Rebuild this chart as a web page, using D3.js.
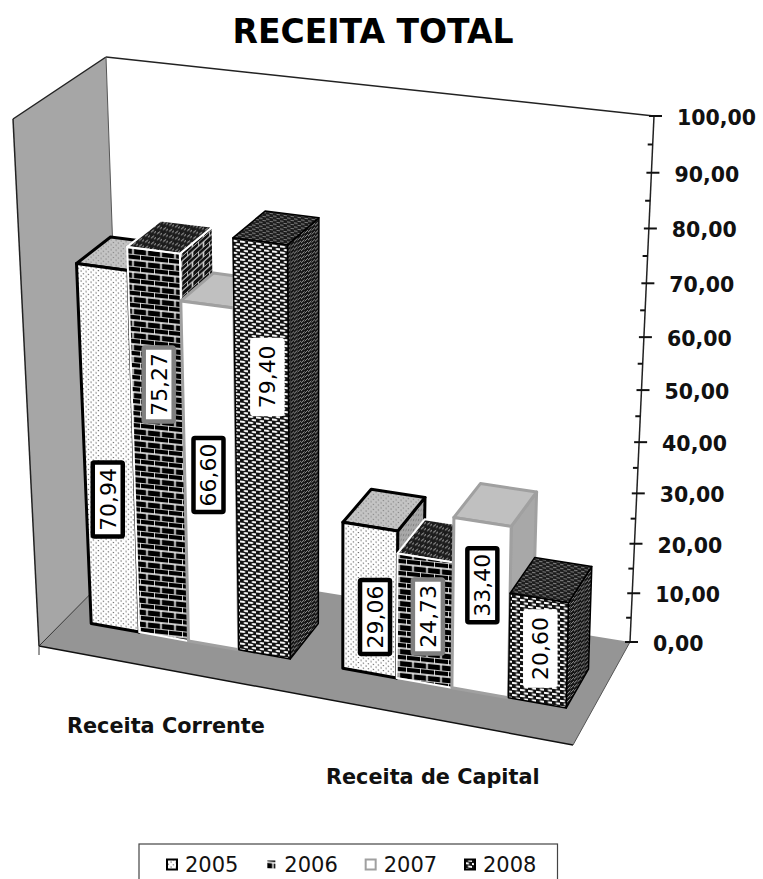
<!DOCTYPE html>
<html><head><meta charset="utf-8">
<script src="https://cdnjs.cloudflare.com/ajax/libs/d3/7.8.5/d3.min.js"></script>
<style>html,body{margin:0;padding:0;background:#fff}svg{display:block;font-family:"DejaVu Sans",sans-serif}</style>
</head><body><svg id="c" width="763" height="879"></svg>
<script>
const categories = ["Receita Corrente", "Receita de Capital"];
const seriesNames = ["2005", "2006", "2007", "2008"];
const values2005 = [70.94, 29.06];
const values2006 = [75.27, 24.73];
const values2007 = [66.60, 33.40];
const values2008 = [79.40, 20.60];
const valueTicks = [0,10,20,30,40,50,60,70,80,90,100];
const minorTicks = [5,15,25,35,45,55,65,75,85,95];
const title = "RECEITA TOTAL";

// layout only
const floorCorners = {fl:[39,646], fr:[573,745], br:[630,642], bl:[124,560]};
const topCorners = {fl:[13,119], fr:[580,186], br:[654,116], bl:[106,57]};
const heightForeshorten = 0.919;
const depthFront = 0.30, depthBack = 0.68;
const labelNudge = {
  "2005":[[-1,52],[5,17]], "2006":[[0,-59],[3,-4]], "2007":[[-2,0],[1,-22]], "2008":[[5,-71],[2,-2]]
};
const seriesValues = {"2005":values2005,"2006":values2006,"2007":values2007,"2008":values2008};

const svg = d3.select("#c");
const fmt = v => v.toFixed(2).replace(".", ",");

function homography(q){
  const [p0,p1,p2,p3]=[q.fl,q.fr,q.br,q.bl];
  const dx1=p1[0]-p2[0],dx2=p3[0]-p2[0],sx=p0[0]-p1[0]+p2[0]-p3[0];
  const dy1=p1[1]-p2[1],dy2=p3[1]-p2[1],sy=p0[1]-p1[1]+p2[1]-p3[1];
  const den=dx1*dy2-dx2*dy1;
  const g=(sx*dy2-dx2*sy)/den,h=(dx1*sy-sx*dy1)/den;
  const a=p1[0]-p0[0]+g*p1[0],b=p3[0]-p0[0]+h*p3[0],c=p0[0],
        d=p1[1]-p0[1]+g*p1[1],e=p3[1]-p0[1]+h*p3[1],f=p0[1];
  return (u,v)=>{const w=g*u+h*v+1;return [(a*u+b*v+c)/w,(d*u+e*v+f)/w];};
}
const floorAt = homography(floorCorners), topAt = homography(topCorners);
const yValue = d3.scaleLinear().domain([0,100]).range([0,1]);
function P(u,v,val){
  const s=yValue(val), t=s*heightForeshorten/(1+(heightForeshorten-1)*s);
  const F=floorAt(u,v),T=topAt(u,v);
  return [F[0]+(T[0]-F[0])*t,F[1]+(T[1]-F[1])*t];
}
const xCat = d3.scaleBand().domain(categories).range([0.004,1.008]).paddingInner(0.2).paddingOuter(0.1);
const xSer = d3.scaleBand().domain(seriesNames).range([0,xCat.bandwidth()]);
const poly = pts => "M"+pts.map(p=>p.map(n=>n.toFixed(1)).join(",")).join("L")+"Z";

const defs = svg.append("defs");
function pat(id,w,h,bg,tf,draw){
  const p=defs.append("pattern").attr("id",id).attr("width",w).attr("height",h).attr("patternUnits","userSpaceOnUse");
  if(tf)p.attr("patternTransform",tf);
  p.append("rect").attr("width",w).attr("height",h).attr("fill",bg);
  draw(p);
}
const dots=(col,s)=>p=>{[[0.5,0.5],[3,3]].forEach(([x,y])=>p.append("rect").attr("x",x).attr("y",y).attr("width",s).attr("height",s).attr("fill",col));};
pat("d-front",5,5,"#fff","skewY(7)",dots("#444",1.1));
pat("d-top",5,5,"#c4c4c4","skewY(7)",dots("#777",1.1));
pat("d-side",5,5,"#a8a8a8","skewY(-45)",dots("#666",1.1));
const bricks=(col,w,hh)=>p=>{
  p.append("path").attr("stroke",col).attr("stroke-width",1.5).attr("fill","none")
   .attr("d",`M0,0H${w}M0,${hh}H${w}M0,0V${hh}M${w/2},${hh}V${2*hh}`);
};
pat("b-front",14,12,"#000","skewY(6)",bricks("#fff",14,6));
pat("b-side",11,10,"#111","skewY(-42)",bricks("#ccc",11,5));
pat("b-top",6,6,"#1c1c1c","skewY(-35)",p=>{p.append("rect").attr("x",1).attr("y",1).attr("width",3).attr("height",1.5).attr("fill","#888");p.append("rect").attr("x",4).attr("y",4).attr("width",3).attr("height",1.5).attr("fill","#888");});
const weave=(col,w,hh,dl,dh)=>p=>{
  p.append("rect").attr("x",0).attr("y",1).attr("width",dl).attr("height",dh).attr("fill",col);
  p.append("rect").attr("x",w/2).attr("y",1+hh/2).attr("width",dl).attr("height",dh).attr("fill",col);
};
pat("w-front",8,6,"#111","skewY(7)",weave("#f6f6f6",8,6,5,2));
pat("w-side",7,4,"#151515","skewY(-44)",weave("#8c8c8c",7,4,3.5,1.2));
pat("w-top",7,4,"#1c1c1c","skewY(8)",weave("#7c7c7c",7,4,3.5,1.2));

const styles = {
 "2005":{front:"url(#d-front)",top:"url(#d-top)",side:"url(#d-side)",stroke:"#000",sw:3,lab:"#000"},
 "2006":{front:"url(#b-front)",top:"url(#b-top)",side:"url(#b-side)",stroke:"#fff",sw:2,lab:"#808080"},
 "2007":{front:"#fff",top:"#c0c0c0",side:"#a8a8a8",stroke:"#a0a0a0",sw:3,lab:"#000"},
 "2008":{front:"url(#w-front)",top:"url(#w-top)",side:"url(#w-side)",stroke:"#000",sw:1.5,lab:"#fff"}
};

const g = svg.append("g");
g.append("path").attr("d",poly([P(0,1,0),P(1,1,0),P(1,1,100),P(0,1,100)])).attr("fill","#fff");
g.append("path").attr("d",poly([P(0,0,0),P(0,1,0),P(0,1,100),P(0,0,100)])).attr("fill","#a6a6a6");
g.append("path").attr("d",poly([P(0,0,0),P(1,0,0),P(1,1,0),P(0,1,0)])).attr("fill","#959595");
const line=(a,b,c,w)=>g.append("path").attr("d","M"+a.join(",")+"L"+b.join(",")).attr("stroke",c).attr("stroke-width",w).attr("fill","none");
line(P(0,0,0),P(0,0,100),"#222",1.5);
line(P(0,0,100),P(0,1,100),"#222",1.5);
line(P(0,1,100),P(1,1,100),"#222",1.5);
line(P(0,1,0),P(0,1,100),"#555",1);
line(P(0,0,0),P(0,1,0),"#333",1);
line(P(0,0,0),P(1,0,0),"#111",1.5);
line(P(1,0,0),P(1,1,0),"#555",1);
line(P(0,0,0),[P(0,0,0)[0],P(0,0,0)[1]+9],"#333",1);

const labels=[];
seriesNames.forEach(s=>{
  categories.forEach((c,ci)=>{
    const val=seriesValues[s][ci], st=styles[s];
    const u0=xCat(c)+xSer(s), u1=u0+xSer.bandwidth();
    const a=P(u0,depthFront,0),b=P(u1,depthFront,0),c2=P(u1,depthFront,val),d=P(u0,depthFront,val);
    const e=P(u0,depthBack,val),f=P(u1,depthBack,val),h=P(u1,depthBack,0);
    const bar=g.append("g").attr("data-series",s).attr("stroke",st.stroke).attr("stroke-width",st.sw).attr("stroke-linejoin","round");
    bar.append("path").attr("d",poly([b,h,f,c2])).attr("fill",st.side);
    bar.append("path").attr("d",poly([d,c2,f,e])).attr("fill",st.top);
    bar.append("path").attr("d",poly([a,b,c2,d])).attr("fill",st.front);
    const n=labelNudge[s][ci];
    labels.push({x:(a[0]+b[0]+c2[0]+d[0])/4+n[0],y:(a[1]+b[1]+c2[1]+d[1])/4+n[1],t:fmt(val),c:st.lab});
  });
});

labels.forEach(l=>{
  const t=svg.append("g").attr("transform",`translate(${l.x},${l.y}) rotate(-90)`);
  t.append("rect").attr("x",-37).attr("y",-15).attr("width",74).attr("height",30).attr("rx",1.5)
    .attr("fill","#fff").attr("stroke",l.c).attr("stroke-width",4.5);
  t.append("text").attr("text-anchor","middle").attr("y",8).attr("font-size",22).attr("fill","#000").text(l.t);
});

const axisG=svg.append("g");
axisG.append("path").attr("d","M"+P(1,1,0).join(",")+"L"+P(1,1,100).join(",")).attr("stroke","#222").attr("stroke-width",1.5);
valueTicks.forEach(v=>{
  const p=P(1,1,v);
  axisG.append("path").attr("d",`M${p[0]-5},${p[1]}H${p[0]+8}`).attr("stroke","#111").attr("stroke-width",2);
  axisG.append("text").attr("x",p[0]+23).attr("y",p[1]+9).attr("font-size",20.5).attr("font-weight","bold").attr("fill","#111").text(fmt(v));
});
minorTicks.forEach(v=>{
  const p=P(1,1,v);
  axisG.append("path").attr("d",`M${p[0]-5},${p[1]}H${p[0]}`).attr("stroke","#111").attr("stroke-width",2);
});

const catPos=[[67,733],[326,784]];
categories.forEach((c,i)=>svg.append("text").attr("x",catPos[i][0]).attr("y",catPos[i][1]).attr("font-size",20.8).attr("font-weight","bold").attr("fill","#111").text(c));

svg.append("text").attr("x",373).attr("y",43).attr("text-anchor","middle").attr("font-size",33).attr("font-weight","bold").attr("fill","#000").text(title);

svg.append("rect").attr("x",139).attr("y",844).attr("width",418.5).attr("height",40).attr("fill","#fff").attr("stroke","#444").attr("stroke-width",1.2);
const legX=d3.scalePoint().domain(seriesNames).range([166,464]);
seriesNames.forEach(s=>{
  const x=legX(s),st=styles[s];
  svg.append("rect").attr("x",x+1).attr("y",859.5).attr("width",10).attr("height",10).attr("fill",st.front).attr("stroke",st.stroke).attr("stroke-width",2);
  svg.append("text").attr("x",x+19).attr("y",871.5).attr("font-size",21).attr("fill","#111").text(s);
});
</script></body></html>
